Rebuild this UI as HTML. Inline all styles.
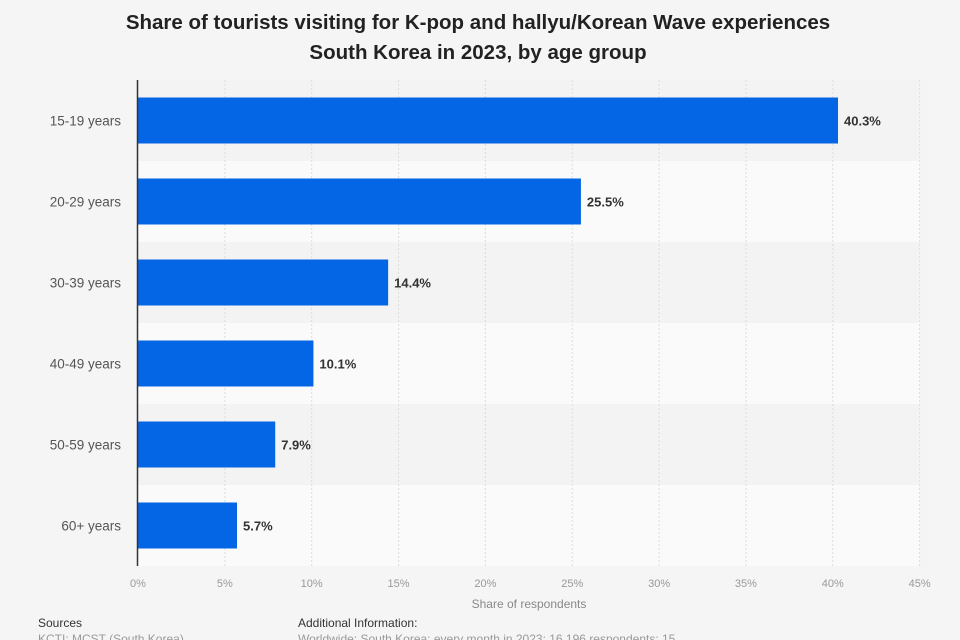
<!DOCTYPE html>
<html><head><meta charset="utf-8"><style>
body{margin:0;background:#f5f5f5;font-family:"Liberation Sans",sans-serif;}
#wrap{position:relative;width:960px;height:640px;overflow:hidden;}
.t{position:absolute;white-space:nowrap;}
</style></head><body>
<div id="wrap">
<div class="t" style="left:0;width:956px;text-align:center;top:8px;font-size:20.5px;font-weight:bold;color:#222;line-height:30px;">Share of tourists visiting for K-pop and hallyu/Korean Wave experiences<br>South Korea in 2023, by age group</div>
<svg id="svg" width="960" height="640" style="position:absolute;left:0;top:0"></svg>
<div class="t" style="left:0;width:1058px;text-align:center;top:597px;font-size:12px;color:#888;">Share of respondents</div>
<div class="t" style="left:38px;top:616px;font-size:12px;color:#333;">Sources</div>
<div class="t" style="left:38px;top:632px;font-size:12px;color:#999;">KCTI; MCST (South Korea)</div>
<div class="t" style="left:298px;top:616px;font-size:12px;color:#333;">Additional Information:</div>
<div class="t" style="left:298px;top:632px;font-size:12px;color:#999;">Worldwide; South Korea; every month in 2023; 16,196 respondents; 15</div>
</div>
<script>
const categories=["15-19 years","20-29 years","30-39 years","40-49 years","50-59 years","60+ years"];
const values=[40.3,25.5,14.4,10.1,7.9,5.7];
const ticks=[0,5,10,15,20,25,30,35,40,45];
const NS="http://www.w3.org/2000/svg";
const svg=document.getElementById('svg');
const x0=138,pxPer=17.37,top0=80,rowH=81,barH=46;
const xs=v=>x0+v*pxPer;
const yc=i=>top0+rowH*i+rowH/2;
function el(t,a){const e=document.createElementNS(NS,t);for(const k in a)e.setAttribute(k,a[k]);svg.appendChild(e);return e;}
categories.forEach((c,i)=>{
 const r=el('rect',{x:x0,y:top0+rowH*i,width:xs(45)-x0,height:rowH,fill:i%2?'#fafafa':'#f3f3f3'});
 
 
});
ticks.forEach(t=>{
 if(t>0){const g=el('line',{x1:xs(t),x2:xs(t),y1:top0,y2:top0+rowH*6,stroke:'#dcdcdc','stroke-dasharray':'2,2'});
 
 }
 const l=el('text',{x:xs(t),y:587,'text-anchor':'middle','font-size':11,fill:'#999'});
 l.textContent=t+'%';
 
 
});
categories.forEach((c,i)=>{
 const b=el('rect',{x:x0,y:yc(i)-barH/2,width:xs(values[i])-x0,height:barH,fill:'#0566e5'});
 
 
 const v=el('text',{x:xs(values[i])+6,y:yc(i)+5,'font-size':13,'font-weight':'bold',fill:'#333'});
 v.textContent=values[i]+'%';
 
 
 const l=el('text',{x:121,y:yc(i)+5,'text-anchor':'end','font-size':13.5,fill:'#555'});
 l.textContent=c;
 
 
});
const ax=el('line',{x1:x0-0.5,x2:x0-0.5,y1:top0,y2:top0+rowH*6,stroke:'#333','stroke-width':1.5});


</script>
</body></html>
